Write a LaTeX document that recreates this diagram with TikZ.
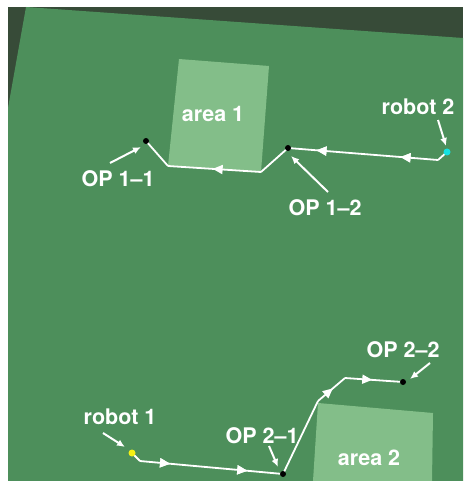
\documentclass[tikz,border=0pt]{standalone}
\usepackage{fontspec}
\setmainfont{TeX Gyre Heros}
\usetikzlibrary{arrows.meta,decorations.markings}

\definecolor{wall}{RGB}{55,75,56}
\definecolor{floor}{RGB}{77,143,91}
\definecolor{zone}{RGB}{131,190,137}
\definecolor{robotcyan}{RGB}{20,225,225}
\definecolor{robotyellow}{RGB}{245,240,20}

\tikzset{
  lbl/.style={text=white, font=\fontsize{21.5}{25}\selectfont\bfseries, inner sep=0pt},
  pointer/.style={white, line width=2pt, -{Latex[length=8pt,width=7pt]}},
  route/.style={white, line width=1.8pt, line join=round},
  midarrow/.style={postaction={decorate}, decoration={markings,
    mark=at position #1 with {\arrow[white]{Triangle[length=10pt,width=9pt]}}}},
  spot/.style={circle, fill=black, inner sep=0pt, minimum size=6pt},
  robotspot/.style={circle, fill=#1, inner sep=0pt, minimum size=7pt}
}

\begin{document}
\begin{tikzpicture}[x=1pt,y=-1pt]
\useasboundingbox (0,0) rectangle (463,481);
\fill[white] (0,0) rectangle (463,481);
%
\fill[wall] (8,7) rectangle (463,481);
\fill[floor] (26,7) -- (463,38) -- (463,481) -- (8,481) -- (8,108) -- cycle;
%
\fill[zone] (179,59) -- (269,66) -- (261,172) -- (168,166) -- cycle;
\node[lbl] (area1) at (213,114) {area 1};
%
\fill[zone] (318,403) -- (433,413) -- (432,481) -- (313,481) -- cycle;
\node[lbl] (area2) at (369,458) {area 2};
%
\coordinate (a1) at (438,160);
\coordinate (a2) at (261,172);
\coordinate (a3) at (168,166);
\coordinate (b1) at (140,461);
\coordinate (b2) at (318,401);
\coordinate (b3) at (345,378);
%
\coordinate (op11) at (146,141);
\coordinate (op12) at (288,148);
\coordinate (op21) at (283,474);
\coordinate (op22) at (403,382);
\coordinate (rob2) at (447,152);
\coordinate (rob1) at (132,453);
%
\draw[route] (rob2) -- (a1);
\draw[route, midarrow=0.25, midarrow=0.81] (a1) -- (op12);
\draw[route] (op12) -- (a2);
\draw[route, midarrow=0.52] (a2) -- (a3);
\draw[route] (a3) -- (op11);
%
\draw[route] (rob1) -- (b1);
\draw[route, midarrow=0.21, midarrow=0.75] (b1) -- (op21);
\draw[route] (op21) -- (b2);
\draw[route, midarrow=0.55] (b2) -- (b3);
\draw[route, midarrow=0.47] (b3) -- (op22);
%
\node[spot] (d11) at (op11) {};
\node[spot] (d12) at (op12) {};
\node[spot] (d21) at (op21) {};
\node[spot] (d22) at (op22) {};
\node[robotspot=robotcyan] (r2) at (rob2) {};
\node[robotspot=robotyellow] (r1) at (rob1) {};
%
\node[lbl] (t11) at (118,179) {OP 1–1};
\node[lbl] (t12) at (325,208) {OP 1–2};
\node[lbl] (t21) at (262,436) {OP 2–1};
\node[lbl] (t22) at (403,350) {OP 2–2};
\node[lbl] (tr2) at (418,107) {robot 2};
\node[lbl] (tr1) at (120,417) {robot 1};
%
\coordinate (s11) at (110,163);
\coordinate (s12) at (328,192);
\coordinate (s21) at (269,446);
\coordinate (s22) at (430,363);
\coordinate (sr2) at (438,120);
\coordinate (sr1) at (103,433);
\draw[pointer] (s11) -- (141,147);
\draw[pointer] (s12) -- (291,156);
\draw[pointer] (s21) -- (278,467);
\draw[pointer] (s22) -- (410,379);
\draw[pointer] (sr2) -- (446,146);
\draw[pointer] (sr1) -- (125,447);
\end{tikzpicture}
\end{document}
